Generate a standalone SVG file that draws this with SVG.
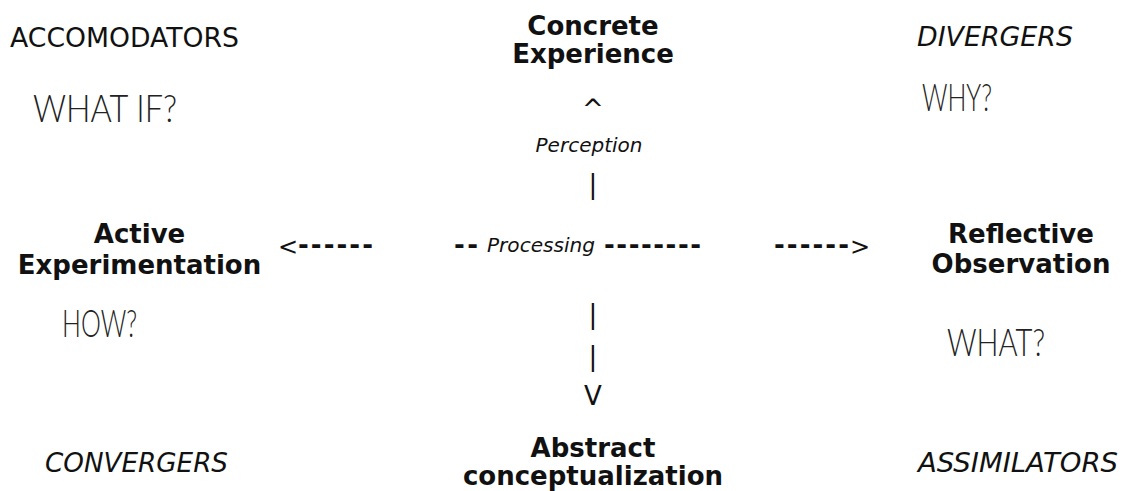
<svg xmlns="http://www.w3.org/2000/svg" width="1123" height="491" viewBox="0 0 1123 491">
<style>
text{font-family:"DejaVu Sans","Liberation Sans",sans-serif;fill:#111;}
.b{font-weight:bold;font-size:26px;text-anchor:middle;}
.r{font-size:26px;}
.i{font-size:26px;font-style:italic;}
.s{font-size:20px;font-style:italic;}
.d{font-size:24px;}
.db{font-size:26px;font-weight:bold;}
.c{font-size:26px;text-anchor:middle;}
.h{font-family:"Lato","DejaVu Sans Condensed",sans-serif;font-weight:300;font-size:38px;fill:#222;}
</style>
<rect width="1123" height="491" fill="#fff"/>
<g id="accomodators">
<text class="r" x="10" y="47" textLength="229" lengthAdjust="spacingAndGlyphs">ACCOMODATORS</text>
<text class="h" x="33" y="122" textLength="144" lengthAdjust="spacingAndGlyphs">WHAT IF?</text>
</g>
<g id="divergers">
<text class="i" x="917" y="46" textLength="156" lengthAdjust="spacingAndGlyphs">DIVERGERS</text>
<text class="h" x="922" y="111" textLength="70" lengthAdjust="spacingAndGlyphs">WHY?</text>
</g>
<g id="concrete-experience">
<text class="b" x="593" y="35">Concrete</text>
<text class="b" x="593" y="63">Experience</text>
</g>
<g id="active-experimentation">
<text class="b" x="139.5" y="243">Active</text>
<text class="b" x="139.5" y="274">Experimentation</text>
<text class="h" x="62" y="337" textLength="75" lengthAdjust="spacingAndGlyphs">HOW?</text>
</g>
<g id="reflective-observation">
<text class="b" x="1021" y="243">Reflective</text>
<text class="b" x="1021" y="273">Observation</text>
<text class="h" x="947" y="356" textLength="98" lengthAdjust="spacingAndGlyphs">WHAT?</text>
</g>
<g id="abstract-conceptualization">
<text class="b" x="593" y="457">Abstract</text>
<text class="b" x="593" y="485">conceptualization</text>
</g>
<g id="convergers">
<text class="i" x="45" y="472" textLength="183" lengthAdjust="spacingAndGlyphs">CONVERGERS</text>
</g>
<g id="assimilators">
<text class="i" x="918" y="472" textLength="200" lengthAdjust="spacingAndGlyphs">ASSIMILATORS</text>
</g>
<g id="connectors">
<text class="c" x="593" y="118">^</text>
<text class="s" x="589" y="152" text-anchor="middle">Perception</text>
<text class="c" x="593" y="193">|</text>
<text class="d" x="278" y="255">&lt;</text>
<text class="db" x="298" y="254" textLength="75" lengthAdjust="spacing">------</text>
<text class="db" x="454" y="254" textLength="24" lengthAdjust="spacing">--</text>
<text class="s" x="487" y="252" textLength="108" lengthAdjust="spacingAndGlyphs">Processing</text>
<text class="db" x="604" y="254" textLength="97" lengthAdjust="spacing">--------</text>
<text class="db" x="774" y="254" textLength="75" lengthAdjust="spacing">------</text>
<text class="d" x="850" y="255">&gt;</text>
<text class="c" x="593" y="323">|</text>
<text class="c" x="593" y="365">|</text>
<text class="c" x="593" y="405">V</text>
</g>
</svg>
